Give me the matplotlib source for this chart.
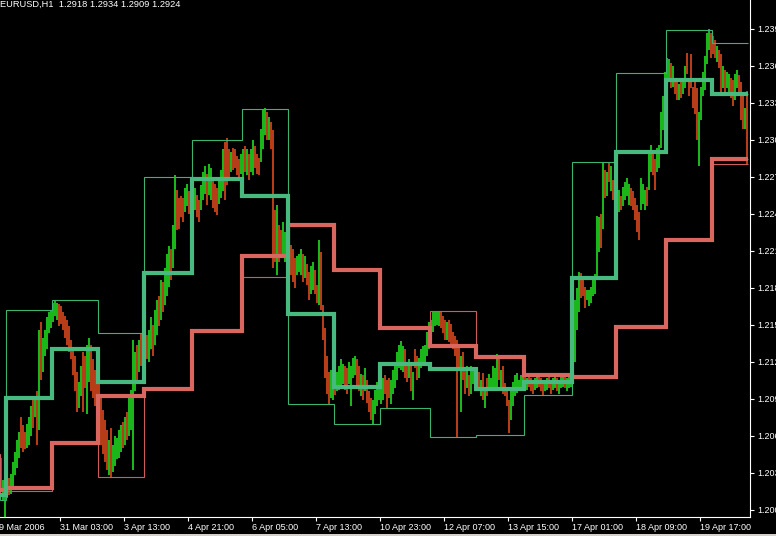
import matplotlib
matplotlib.use("Agg")
import matplotlib.pyplot as plt
from matplotlib.patches import Rectangle
import numpy as np

plt.rcParams["font.family"] = ["Liberation Sans", "DejaVu Sans"]

title_text = "EURUSD,H1  1.2918 1.2934 1.2909 1.2924"

# hourly bars
bar_low = [
    1.2018, 1.2008, 1.1994, 1.2010, 1.2012, 1.2013, 1.2018, 1.2028, 1.2034, 1.2042, 1.2050, 1.2047, 1.2049,
    1.2050, 1.2053, 1.2060, 1.2066, 1.2075, 1.2053, 1.2065, 1.2105, 1.2112, 1.2125, 1.2130, 1.2143, 1.2147,
    1.2152, 1.2157, 1.2154, 1.2149, 1.2151, 1.2146, 1.2139, 1.2134, 1.2128, 1.2122, 1.2109, 1.2096, 1.2079,
    1.2083, 1.2092, 1.2079, 1.2099, 1.2078, 1.2104, 1.2096, 1.2091, 1.2084, 1.2073,
    1.2065, 1.2053, 1.2045, 1.2039, 1.2032, 1.2028, 1.2027, 1.2031, 1.2036, 1.2041, 1.2042, 1.2047, 1.2050,
    1.2053, 1.2057, 1.2060, 1.2065, 1.2032, 1.2096, 1.2105, 1.2112, 1.2117, 1.2122,
    1.2115, 1.2122, 1.2120, 1.2130, 1.2125, 1.2134, 1.2142, 1.2149, 1.2154, 1.2160, 1.2166, 1.2173, 1.2181,
    1.2186, 1.2196, 1.2211, 1.2227, 1.2228, 1.2237, 1.2233, 1.2241, 1.2246, 1.2240, 1.2243,
    1.2241, 1.2243, 1.2237, 1.2233, 1.2243, 1.2251, 1.2256, 1.2247, 1.2255, 1.2251, 1.2245, 1.2241, 1.2239,
    1.2248, 1.2253, 1.2258, 1.2251, 1.2263, 1.2269, 1.2274, 1.2275, 1.2277, 1.2271, 1.2269, 1.2272,
    1.2269, 1.2274, 1.2271, 1.2267, 1.2274, 1.2271, 1.2277, 1.2272, 1.2271, 1.2282, 1.2292, 1.2304, 1.2300,
    1.2300, 1.2292, 1.2196, 1.2201, 1.2190, 1.2201, 1.2204, 1.2206, 1.2201, 1.2211,
    1.2201, 1.2190, 1.2185, 1.2180, 1.2190, 1.2193, 1.2190, 1.2185, 1.2188, 1.2182, 1.2170, 1.2175, 1.2178,
    1.2175, 1.2168, 1.2166, 1.2162, 1.2138, 1.2107, 1.2094, 1.2086, 1.2091, 1.2089,
    1.2093, 1.2096, 1.2097, 1.2100, 1.2102, 1.2097, 1.2094, 1.2102, 1.2084, 1.2107, 1.2109, 1.2100, 1.2096,
    1.2092, 1.2089, 1.2096, 1.2087, 1.2079, 1.2073, 1.2070, 1.2078, 1.2084, 1.2089,
    1.2086, 1.2089, 1.2094, 1.2083, 1.2091, 1.2086, 1.2094, 1.2099, 1.2105, 1.2115, 1.2113, 1.2112, 1.2107,
    1.2104, 1.2107, 1.2096, 1.2089, 1.2115, 1.2105, 1.2107, 1.2115, 1.2118, 1.2120, 1.2125, 1.2130,
    1.2133, 1.2144, 1.2149, 1.2150, 1.2149, 1.2147, 1.2143, 1.2138, 1.2138, 1.2136, 1.2134, 1.2130, 1.2125,
    1.2059, 1.2115, 1.2079, 1.2105, 1.2094, 1.2099, 1.2092, 1.2094, 1.2102, 1.2097,
    1.2096, 1.2096, 1.2092, 1.2089, 1.2083, 1.2092, 1.2096, 1.2097, 1.2096, 1.2096, 1.2100, 1.2105, 1.2097,
    1.2094, 1.2092, 1.2084, 1.2062, 1.2073, 1.2084, 1.2092, 1.2095, 1.2097, 1.2100, 1.2100,
    1.2099, 1.2097, 1.2100, 1.2096, 1.2094, 1.2097, 1.2099, 1.2100, 1.2096, 1.2093, 1.2096, 1.2097, 1.2099,
    1.2094, 1.2097, 1.2099, 1.2096, 1.2094, 1.2099, 1.2100, 1.2099, 1.2096, 1.2099, 1.2100,
    1.2105, 1.2120, 1.2146, 1.2160, 1.2172, 1.2173, 1.2164, 1.2170, 1.2165, 1.2168, 1.2173, 1.2175, 1.2188,
    1.2209, 1.2212, 1.2228, 1.2253, 1.2254, 1.2266, 1.2258, 1.2251, 1.2245,
    1.2233, 1.2241, 1.2243, 1.2246, 1.2251, 1.2254, 1.2247, 1.2246, 1.2243, 1.2235, 1.2225, 1.2219, 1.2243,
    1.2248, 1.2243, 1.2246, 1.2259, 1.2274, 1.2271, 1.2259, 1.2274, 1.2277, 1.2293, 1.2308, 1.2324,
    1.2339, 1.2347, 1.2342, 1.2343, 1.2337, 1.2332, 1.2332, 1.2334, 1.2337, 1.2342, 1.2353, 1.2335, 1.2342,
    1.2326, 1.2321, 1.2300, 1.2279, 1.2316, 1.2335, 1.2340, 1.2361, 1.2373, 1.2366,
    1.2369, 1.2366, 1.2363, 1.2358, 1.2337, 1.2342, 1.2335, 1.2342, 1.2337, 1.2334, 1.2327, 1.2332, 1.2342,
    1.2335, 1.2316, 1.2309, 1.2309, 1.2280,
]
bar_high = [
    1.2042, 1.2024, 1.2032, 1.2021, 1.2026, 1.2029, 1.2039, 1.2047, 1.2057, 1.2063, 1.2075, 1.2069, 1.2063,
    1.2070, 1.2075, 1.2084, 1.2089, 1.2092, 1.2096, 1.2146, 1.2152, 1.2139, 1.2146, 1.2156, 1.2160, 1.2162,
    1.2168, 1.2170, 1.2168, 1.2167, 1.2165, 1.2160, 1.2157, 1.2154, 1.2149, 1.2138, 1.2130, 1.2125, 1.2112,
    1.2104, 1.2117, 1.2128, 1.2125, 1.2134, 1.2139, 1.2134, 1.2122, 1.2113, 1.2107,
    1.2105, 1.2093, 1.2081, 1.2073, 1.2065, 1.2057, 1.2066, 1.2053, 1.2060, 1.2058, 1.2065, 1.2069, 1.2071,
    1.2075, 1.2079, 1.2092, 1.2097, 1.2138, 1.2128, 1.2134, 1.2138, 1.2143, 1.2143,
    1.2139, 1.2142, 1.2146, 1.2156, 1.2150, 1.2162, 1.2170, 1.2173, 1.2186, 1.2185, 1.2196, 1.2207, 1.2214,
    1.2211, 1.2231, 1.2271, 1.2259, 1.2253, 1.2254, 1.2253, 1.2261, 1.2264, 1.2258, 1.2262,
    1.2259, 1.2261, 1.2255, 1.2251, 1.2263, 1.2274, 1.2279, 1.2272, 1.2280, 1.2277, 1.2269, 1.2264, 1.2261,
    1.2269, 1.2275, 1.2292, 1.2298, 1.2301, 1.2292, 1.2290, 1.2293, 1.2292, 1.2287, 1.2284, 1.2288,
    1.2292, 1.2295, 1.2292, 1.2288, 1.2292, 1.2300, 1.2295, 1.2288, 1.2285, 1.2309, 1.2324, 1.2326, 1.2322,
    1.2318, 1.2314, 1.2308, 1.2243, 1.2247, 1.2231, 1.2227, 1.2233, 1.2225, 1.2235,
    1.2225, 1.2215, 1.2211, 1.2204, 1.2206, 1.2207, 1.2211, 1.2207, 1.2206, 1.2199, 1.2193, 1.2198, 1.2201,
    1.2194, 1.2182, 1.2219, 1.2209, 1.2166, 1.2147, 1.2125, 1.2112, 1.2113, 1.2117,
    1.2120, 1.2112, 1.2117, 1.2122, 1.2118, 1.2117, 1.2115, 1.2120, 1.2117, 1.2123, 1.2125, 1.2122, 1.2117,
    1.2110, 1.2109, 1.2115, 1.2105, 1.2096, 1.2091, 1.2089, 1.2097, 1.2104, 1.2109,
    1.2105, 1.2107, 1.2109, 1.2105, 1.2107, 1.2105, 1.2113, 1.2120, 1.2128, 1.2134, 1.2137, 1.2133, 1.2130,
    1.2120, 1.2122, 1.2118, 1.2112, 1.2130, 1.2125, 1.2123, 1.2130, 1.2133, 1.2134, 1.2144, 1.2152,
    1.2154, 1.2160, 1.2161, 1.2160, 1.2160, 1.2160, 1.2157, 1.2154, 1.2152, 1.2154, 1.2151, 1.2144, 1.2141,
    1.2138, 1.2131, 1.2125, 1.2128, 1.2113, 1.2117, 1.2109, 1.2117, 1.2113, 1.2112,
    1.2109, 1.2112, 1.2105, 1.2111, 1.2100, 1.2107, 1.2110, 1.2107, 1.2117, 1.2115, 1.2126, 1.2122, 1.2113,
    1.2117, 1.2103, 1.2097, 1.2089, 1.2100, 1.2104, 1.2109, 1.2111, 1.2105, 1.2109, 1.2109,
    1.2109, 1.2107, 1.2110, 1.2107, 1.2105, 1.2107, 1.2109, 1.2110, 1.2107, 1.2104, 1.2105, 1.2107, 1.2109,
    1.2105, 1.2107, 1.2109, 1.2107, 1.2105, 1.2109, 1.2110, 1.2109, 1.2107, 1.2109, 1.2112,
    1.2134, 1.2170, 1.2180, 1.2193, 1.2192, 1.2188, 1.2181, 1.2178, 1.2178, 1.2181, 1.2186, 1.2191, 1.2238,
    1.2237, 1.2240, 1.2281, 1.2275, 1.2274, 1.2281, 1.2279, 1.2267, 1.2261,
    1.2267, 1.2259, 1.2254, 1.2262, 1.2266, 1.2269, 1.2264, 1.2261, 1.2258, 1.2253, 1.2247, 1.2241, 1.2269,
    1.2264, 1.2259, 1.2262, 1.2290, 1.2296, 1.2290, 1.2284, 1.2293, 1.2296, 1.2322, 1.2335, 1.2355,
    1.2366, 1.2365, 1.2362, 1.2360, 1.2350, 1.2348, 1.2345, 1.2347, 1.2350, 1.2360, 1.2370, 1.2350, 1.2369,
    1.2343, 1.2347, 1.2342, 1.2322, 1.2343, 1.2355, 1.2368, 1.2386, 1.2390, 1.2386,
    1.2384, 1.2381, 1.2376, 1.2373, 1.2369, 1.2360, 1.2356, 1.2355, 1.2353, 1.2350, 1.2348, 1.2353, 1.2356,
    1.2352, 1.2347, 1.2335, 1.2326, 1.2339,
]
# u = up (bull) bar, d = down (bear) bar, one string per day block
bar_dir_blocks = [
    "duuud" "uuuuu" "ddduu" "ududu" "duuuuu",
    "uuudd" "ddddd" "ddduu" "dduud" "ddd",
    "ddddd" "uduuu" "uudud" "uuuud" "udu",
    "uduud" "uudud" "uuudu" "udddd" "uudu",
    "uuddu" "uuduu" "ddduu" "udddu" "ddddu",
    "ududu" "udddu" "uudud" "ddudd" "uuu",
    "udddu" "uudud" "duudd" "udddd" "duu",
    "duuuu" "dduuu" "uddud" "udddu" "uuu",
    "uuddd" "uuuuu" "uuddu" "duddu" "uuuuu",
    "uuuuu" "dddud" "ddddd" "uddud" "uud",
    "ududu" "duuuu" "ududd" "dduuu" "uuuu",
    "duddd" "uuddd" "uuddu" "uduuu" "duuu",
    "uuuud" "dduuu" "uuuud" "ududu" "dd",
    "uuduu" "uuddd" "dduuu" "duudd" "uuuuu",
    "uudud" "duduu" "ddddd" "duuuu" "uud",
    "ddudd" "uduud" "duudd" "dud",
]

# daily levels of the step indicator, one value per block of bars
# (first block is the previous day, off the left edge)
block_start = [-2, 0, 3, 26, 49, 72, 96, 121, 144, 167, 190, 215, 238, 262, 286, 308, 333, 356, 374]
green_upper = [1.2012, 1.2012, 1.2162, 1.2170, 1.2143, 1.2270, 1.2300, 1.2325, 1.2159, 1.2100, 1.2118,
               1.2114, 1.2098, 1.2104, 1.2282, 1.2354, 1.2389, 1.2378]
green_mid = [1.2012, 1.2012, 1.2091, 1.2130, 1.2104, 1.2192, 1.2268, 1.2254, 1.2159, 1.2100, 1.2118,
             1.2114, 1.2098, 1.2104, 1.2188, 1.2290, 1.2348, 1.2337]
green_lower = [1.2012, 1.2008, 1.2091, 1.2130, 1.2104, 1.2192, 1.2268, 1.2256, 1.2086, 1.2070, 1.2083,
               1.2059, 1.2061, 1.2093, 1.2188, 1.2290, 1.2348, 1.2337]
red_mid = [1.2016, 1.2016, 1.2018, 1.2054, 1.2092, 1.2098, 1.2145, 1.2206, 1.2231, 1.2194, 1.2147,
           1.2133, 1.2124, 1.2109, 1.2108, 1.2148, 1.2219, 1.2284]
red_upper = [1.2045, 1.2016, 1.2018, 1.2054, 1.2092, 1.2098, 1.2145, 1.2206, 1.2231, 1.2194, 1.2147,
             1.2161, 1.2125, 1.2109, 1.2108, 1.2148, 1.2219, 1.2284]
red_lower = [1.2016, 1.2013, 1.2015, 1.2054, 1.2027, 1.2098, 1.2145, 1.2189, 1.2231, 1.2194, 1.2147,
             1.2133, 1.2124, 1.2109, 1.2108, 1.2148, 1.2219, 1.2280]

price_ticks = [1.2000, 1.2030, 1.2060, 1.2090, 1.2120, 1.2150, 1.2180, 1.2210, 1.2240, 1.2270,
               1.2300, 1.2330, 1.2360, 1.2390]
time_tick_bar = [30, 62, 94, 126, 158, 190, 222, 254, 286, 318, 350]
time_labels = ["31 Mar 03:00", "3 Apr 13:00", "4 Apr 21:00", "6 Apr 05:00", "7 Apr 13:00",
               "10 Apr 23:00", "12 Apr 07:00", "13 Apr 15:00", "17 Apr 01:00", "18 Apr 09:00",
               "19 Apr 17:00"]
first_label = "29 Mar 2006"
first_label_bar = -3

bull_color = "#22ee22"
bear_color = "#f05020"

fig = plt.figure(figsize=(7.76, 5.36), dpi=100, facecolor="black")
ax = fig.add_axes([0, 19 / 536, 750 / 776, 517 / 536])
ax.set_facecolor("black")

low = np.array(bar_low)
high = np.array(bar_high)
bar_dir = "".join(bar_dir_blocks)
n = min(len(low), len(high), len(bar_dir))
low, high = low[:n], high[:n]
x = np.arange(n) + 0.25
up = np.array([c == "u" for c in bar_dir[:n]])
ax.vlines(x[up], low[up], high[up], color=bull_color, lw=1.1, zorder=1)
ax.vlines(x[~up], low[~up], high[~up], color=bear_color, lw=1.1, zorder=1)

# thin box lines, then the thick mid lines on top
for vals, col in [(green_upper, "#3cb371"), (green_lower, "#3cb371"),
                  (red_upper, "#cd5c5c"), (red_lower, "#cd5c5c")]:
    ax.stairs(vals, block_start, baseline=None, color=col, lw=0.8, zorder=2)
ax.stairs(red_mid, block_start, baseline=None, color="#d9675f", lw=3.0, zorder=3)
ax.stairs(green_mid, block_start, baseline=None, color="#48b97f", lw=3.0, zorder=4)

ax.set_xlim(0, 375)
ax.set_ylim(1.19943, 1.24131)

for side in ["top", "left"]:
    ax.spines[side].set_visible(False)
for side in ["right", "bottom"]:
    ax.spines[side].set_color("white")
    ax.spines[side].set_linewidth(0.8)

ax.yaxis.tick_right()
ax.set_yticks(price_ticks)
ax.set_yticklabels([f"{p:.4f}" for p in price_ticks])
ax.tick_params(axis="y", colors="white", length=3, width=0.8, pad=2, labelsize=6.5)

ax.set_xticks(time_tick_bar)
ax.set_xticklabels(time_labels)
ax.tick_params(axis="x", colors="white", length=3, width=0.8, pad=1, labelsize=6.5)
for lbl in ax.get_xticklabels():
    lbl.set_horizontalalignment("left")
ax.annotate(first_label, xy=(first_label_bar, 0), xycoords=("data", "axes fraction"),
            xytext=(0, -4), textcoords="offset points", ha="left", va="top",
            color="white", fontsize=6.5, annotation_clip=False)

fig.text(0.0, 1.0, title_text, ha="left", va="top", color="white", fontsize=6.7)
fig.add_artist(Rectangle((0, 0), 1, 2 / 536, transform=fig.transFigure, color="#d4d0c8", lw=0))

fig.savefig("out.png", dpi=100, facecolor="black")
